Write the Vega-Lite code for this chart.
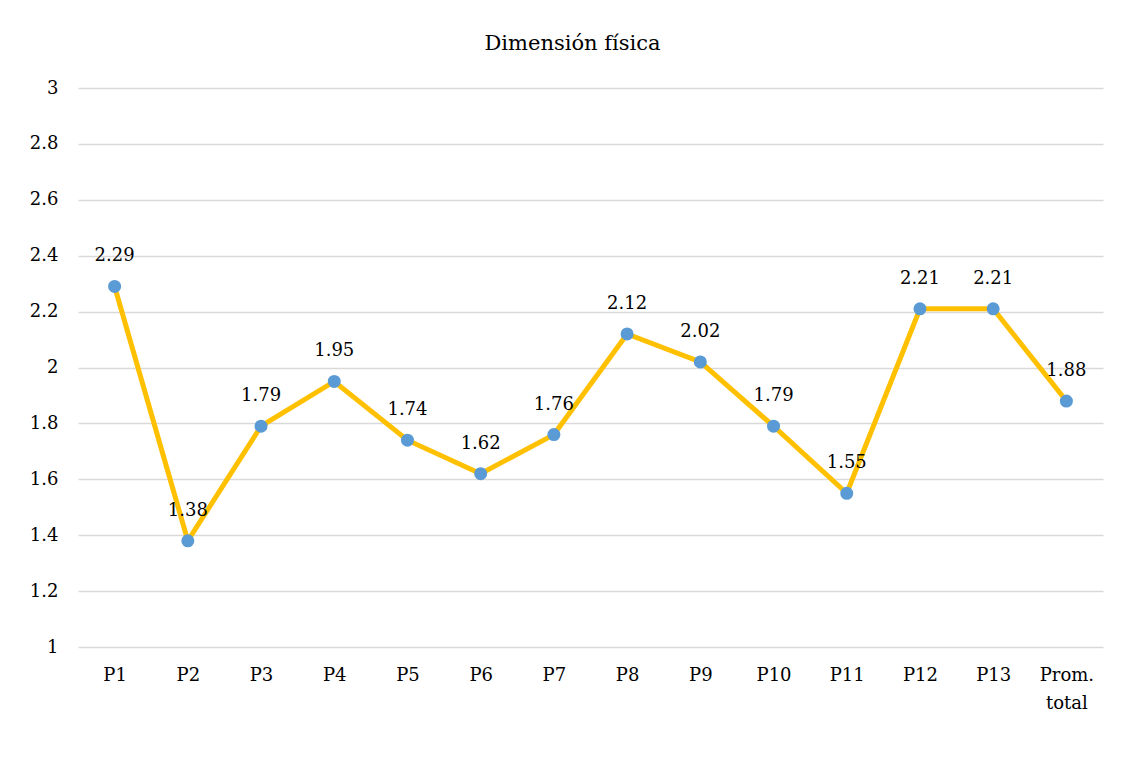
{
  "$schema": "https://vega.github.io/schema/vega-lite/v6.json",
  "width": 1025,
  "height": 559,
  "autosize": {"type": "none"},
  "padding": {"left": 78, "top": 88, "right": 25, "bottom": 131},
  "background": "white",
  "title": {
    "text": "Dimensión física",
    "font": "DejaVu Serif",
    "fontSize": 21,
    "fontWeight": "normal",
    "color": "#000000",
    "anchor": "middle",
    "dx": -18,
    "offset": 25
  },
  "config": {
    "view": {"stroke": null},
    "font": "DejaVu Serif"
  },
  "data": {
    "values": [
      {"cat": "P1", "value": 2.29},
      {"cat": "P2", "value": 1.38},
      {"cat": "P3", "value": 1.79},
      {"cat": "P4", "value": 1.95},
      {"cat": "P5", "value": 1.74},
      {"cat": "P6", "value": 1.62},
      {"cat": "P7", "value": 1.76},
      {"cat": "P8", "value": 2.12},
      {"cat": "P9", "value": 2.02},
      {"cat": "P10", "value": 1.79},
      {"cat": "P11", "value": 1.55},
      {"cat": "P12", "value": 2.21},
      {"cat": "P13", "value": 2.21},
      {"cat": "Prom. total", "value": 1.88}
    ]
  },
  "encoding": {
    "x": {
      "field": "cat",
      "type": "nominal",
      "sort": null,
      "scale": {"paddingInner": 0, "paddingOuter": 0.5},
      "axis": {
        "title": null,
        "labelAngle": 0,
        "labelFont": "DejaVu Serif",
        "labelFontSize": 18,
        "labelColor": "#000000",
        "labelPadding": 19,
        "labelLineHeight": 28,
        "labelExpr": "datum.label == 'Prom. total' ? ['Prom.', 'total'] : datum.label",
        "domain": false,
        "ticks": false,
        "grid": false
      }
    },
    "y": {
      "field": "value",
      "type": "quantitative",
      "scale": {"domain": [1, 3], "nice": false, "zero": false},
      "axis": {
        "title": null,
        "values": [1, 1.2, 1.4, 1.6, 1.8, 2, 2.2, 2.4, 2.6, 2.8, 3],
        "format": "~g",
        "labelFont": "DejaVu Serif",
        "labelFontSize": 18,
        "labelColor": "#000000",
        "labelPadding": 20,
        "domain": false,
        "ticks": false,
        "grid": true,
        "gridColor": "#d9d9d9",
        "gridWidth": 1.5
      }
    }
  },
  "layer": [
    {"mark": {"type": "line", "color": "#FFC000", "strokeWidth": 5}},
    {"mark": {"type": "point", "filled": true, "color": "#5B9BD5", "opacity": 1, "size": 170}},
    {
      "mark": {"type": "text", "dy": -30, "font": "DejaVu Serif", "fontSize": 18, "color": "#000000"},
      "encoding": {"text": {"field": "value", "type": "quantitative", "format": ".2f"}}
    }
  ]
}
